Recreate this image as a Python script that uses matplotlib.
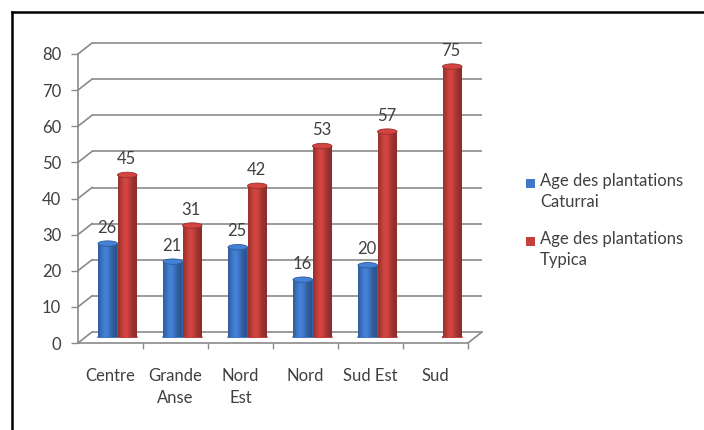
import numpy as np
import matplotlib
matplotlib.use("Agg")
import matplotlib.pyplot as plt
from matplotlib.patches import Ellipse, Rectangle
from matplotlib.path import Path
from matplotlib.lines import Line2D
from matplotlib.colors import to_rgb

# ---- data -------------------------------------------------------------
categories = ["Centre", "Grande\nAnse", "Nord\nEst", "Nord", "Sud Est", "Sud"]
caturrai = [26, 21, 25, 16, 20, np.nan]
typica = [45, 31, 42, 53, 57, 75]
series_names = ["Age des plantations\nCaturrai", "Age des plantations\nTypica"]
y_ticks = [0, 10, 20, 30, 40, 50, 60, 70, 80]

# ---- style ------------------------------------------------------------
plt.rcParams['font.family'] = ['Lato', 'DejaVu Sans']
TEXT = '#404040'
GRID = '#8a8a8a'
BLUE = '#3F78C8'
RED = '#C4403C'
FS = 12
FS_LEG = 12

W, H = 704, 430
fig = plt.figure(figsize=(W / 100, H / 100), dpi=100)
fig.patch.set_facecolor('white')


def rect_px(left, right, top, bottom):
    return [left / W, 1 - bottom / H, (right - left) / W, (bottom - top) / H]


# front plane of the 3-D box, and depth offset to the back wall
FL, FR, FT, FB = 78, 468, 54, 343
DX, DY = 14, -11

ax_back = fig.add_axes(rect_px(FL + DX, FR + DX, FT + DY, FB + DY), zorder=0)
ax_bar = fig.add_axes(rect_px(FL + DX / 2, FR + DX / 2, FT + DY / 2, FB + DY / 2), zorder=2)
ax_front = fig.add_axes(rect_px(FL, FR, FT, FB), zorder=3)

n = len(categories)
for ax in (ax_back, ax_bar, ax_front):
    ax.set_xlim(-0.5, n - 0.5)
    ax.set_ylim(0, 80)
    ax.patch.set_visible(False)
ax_back.axis('off')
ax_bar.axis('off')

# back wall gridlines
ax_back.hlines(y_ticks, -0.5, n - 0.5, color=GRID, lw=1.2, clip_on=False)


def fig_pt(ax, x, y):
    d = ax.transData.transform((x, y))
    return fig.transFigure.inverted().transform(d)


# side wall diagonals and floor edge
for yv in y_ticks:
    p0 = fig_pt(ax_front, -0.5, yv)
    p1 = fig_pt(ax_back, -0.5, yv)
    fig.add_artist(Line2D([p0[0], p1[0]], [p0[1], p1[1]], color=GRID, lw=1.2, zorder=1))
p0 = fig_pt(ax_front, n - 0.5, 0)
p1 = fig_pt(ax_back, n - 0.5, 0)
fig.add_artist(Line2D([p0[0], p1[0]], [p0[1], p1[1]], color=GRID, lw=1.2, zorder=1))

# ---- cylinders ----------------------------------------------------------
width = 0.3
x = np.arange(n)
cap_h = 1.5  # cap ellipse height in data units


def shade(color, nsteps=64):
    t = np.linspace(0, 1, nsteps)
    prof = 0.70 + 0.38 * np.exp(-((t - 0.38) / 0.30) ** 2)
    base = np.array(to_rgb(color))
    rgb = np.clip(base[None, :] * prof[:, None], 0, 1)
    return rgb[None, :, :]


def cylinders(values, offset, color):
    bars = ax_bar.bar(x + offset, values, width, color=color, lw=0, zorder=2)
    grad = shade(color)
    base = np.array(to_rgb(color))
    for xi, v, patch in zip(x + offset, values, bars.patches):
        if not np.isfinite(v):
            continue
        x0, x1 = xi - width / 2, xi + width / 2
        ax_bar.add_patch(Ellipse((xi, 0), width, cap_h, color=base * 0.85, zorder=1.9))
        im = ax_bar.imshow(grad, extent=[x0, x1, -cap_h / 2, v], aspect='auto',
                           zorder=2.1, interpolation='bilinear')
        rect = Rectangle((x0, 0), width, v)
        ell = Ellipse((xi, 0), width, cap_h)
        body = Path.make_compound_path(
            rect.get_path().transformed(rect.get_patch_transform()),
            ell.get_path().transformed(ell.get_patch_transform()))
        im.set_clip_path(body, ax_bar.transData)
        top = Ellipse((xi, v), width, cap_h, facecolor=np.clip(base * 1.08, 0, 1),
                      edgecolor=base * 0.75, lw=0.6, zorder=2.2)
        ax_bar.add_patch(top)
        ax_bar.annotate(f"{v:g}", (xi, v), xytext=(-1, 16), textcoords='offset pixels',
                        ha='center', va='center', fontsize=FS, color=TEXT, zorder=5)


cylinders(caturrai, -width / 2, BLUE)
cylinders(typica, width / 2, RED)
ax_bar.set_xlim(-0.5, n - 0.5)
ax_bar.set_ylim(0, 80)

# ---- front axes: value axis and category axis ---------------------------
for side in ('top', 'right'):
    ax_front.spines[side].set_visible(False)
for side in ('left', 'bottom'):
    ax_front.spines[side].set_color(GRID)
    ax_front.spines[side].set_linewidth(1.2)
    ax_front.spines[side].set_clip_on(False)

ax_front.set_yticks(y_ticks)
ax_front.tick_params(axis='y', direction='out', length=5, width=1.0, color=GRID,
                     pad=7, labelsize=FS, labelcolor=TEXT)
ax_front.set_xticks(np.arange(n) + 0.5)
ax_front.set_xticklabels([])
ax_front.set_xticks(np.arange(n), minor=True)
ax_front.set_xticklabels(categories, minor=True)
ax_front.tick_params(axis='x', which='major', direction='out', length=4.5, width=1.0,
                     color=GRID)
ax_front.tick_params(axis='x', which='minor', length=0, pad=18, labelsize=FS,
                     labelcolor=TEXT)
for lbl in ax_front.get_xticklabels(minor=True):
    lbl.set_linespacing(1.45)

# ---- legend -------------------------------------------------------------
for i, (name, col) in enumerate(zip(series_names, [BLUE, RED])):
    yc = 183 + 58 * i
    fig.add_artist(Rectangle((526 / W, 1 - (yc + 4.5) / H), 9 / W, 9 / H,
                             transform=fig.transFigure, facecolor=col, lw=0))
    fig.text(540 / W, 1 - (yc - 10) / H, name, ha='left', va='top', fontsize=FS_LEG,
             color=TEXT, linespacing=1.4)

# ---- outer frame --------------------------------------------------------
fig.add_artist(Line2D([11.5 / W, 11.5 / W], [0, 1 - 12 / H], color='black', lw=1.8))
fig.add_artist(Line2D([11.5 / W, 1], [1 - 12 / H, 1 - 12 / H], color='black', lw=1.8))

fig.savefig('out.png', dpi=100, facecolor='white')
